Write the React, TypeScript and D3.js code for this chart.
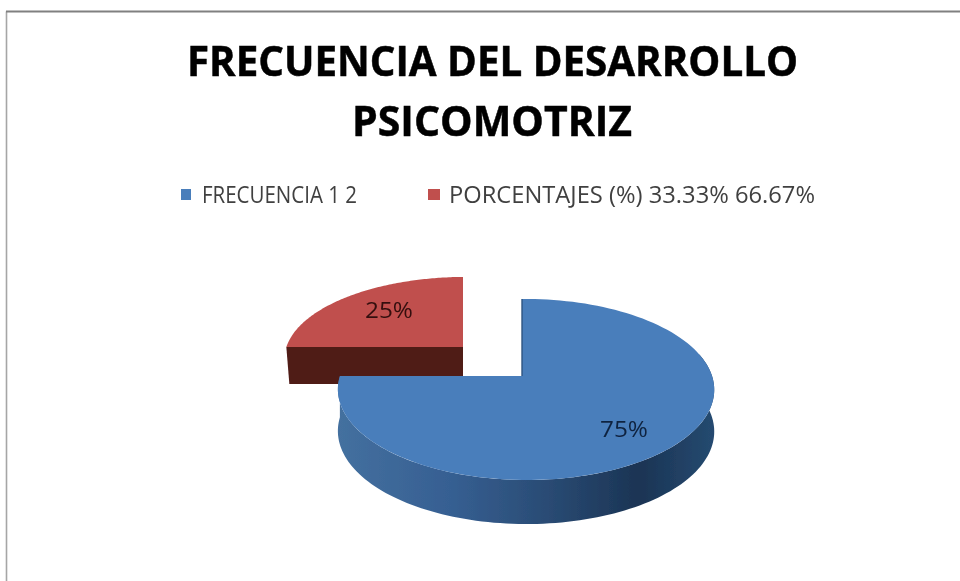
import * as d3 from 'd3'

const categories = ['FRECUENCIA 1 2', 'PORCENTAJES (%) 33.33% 66.67%']
const sliceValues = [75, 25]
const sliceLabels = ['75%', '25%']
const titleLines = ['FRECUENCIA DEL DESARROLLO', 'PSICOMOTRIZ']
const sliceColors = ['#4a7ebb', '#c0504d']

const width = 960
const height = 581
const steps = 120

// the 3D look: each slice is a circle seen in perspective around its own apex
const slicesGeo = [
    {ax: 522, ay: 376, sx: 1, sy: 1, depth: 44},
    {ax: 463, ay: 347, sx: 0.97, sy: 0.91, depth: 37}
]

const project = (geo, a, r = 1, drop = 0) => {
    const u = Math.sin(a) * r
    const v = -Math.cos(a) * r
    const w = 1 - 0.149 * v - 0.0213 * u
    return [
        geo.ax + (186 * geo.sx * u) / w,
        geo.ay + (88.5 * geo.sy * v) / w + drop * (0.94 + 0.06 * v)
    ]
}

const arcPoints = (geo, a0, a1, drop = 0) =>
    d3.range(steps + 1).map(i => project(geo, a0 + ((a1 - a0) * i) / steps, 1, drop))

const line = d3.line()

export default function App() {
    const pieData = d3.pie().sort(null)(sliceValues)
    const blue = pieData[0]
    const red = pieData[1]
    const blueGeo = slicesGeo[0]
    const redGeo = slicesGeo[1]

    const blueTop = [[blueGeo.ax, blueGeo.ay], ...arcPoints(blueGeo, blue.startAngle, blue.endAngle)]
    const redTop = [[redGeo.ax, redGeo.ay], ...arcPoints(redGeo, red.startAngle, red.endAngle)]

    // outer wall of the big slice, visible part only
    const wallFrom = Math.PI * 0.42
    const blueWall = [
        ...arcPoints(blueGeo, wallFrom, blue.endAngle),
        ...arcPoints(blueGeo, wallFrom, blue.endAngle, blueGeo.depth).reverse()
    ]
    // flat cut face of the small slice
    const redEdge = project(redGeo, red.startAngle)
    const redFace = [
        redEdge,
        [redGeo.ax, redGeo.ay],
        [redGeo.ax, redGeo.ay + redGeo.depth],
        [redEdge[0] + 3, redEdge[1] + redGeo.depth]
    ]

    const labelAt = [
        [624, 429],
        [389, 310]
    ]

    return (
        <svg
            width={width}
            height={height}
            style={{position: 'absolute', left: 0, top: 0, background: '#fff'}}
        >
            <defs>
                <linearGradient id="wall" gradientUnits="userSpaceOnUse" x1="338" x2="714" y1="0" y2="0">
                    <stop offset="0" stopColor="#44709f" />
                    <stop offset="0.3" stopColor="#365f92" />
                    <stop offset="0.55" stopColor="#2a4c75" />
                    <stop offset="0.8" stopColor="#1b3454" />
                    <stop offset="1" stopColor="#254a70" />
                </linearGradient>
                <filter id="soft">
                    <feGaussianBlur stdDeviation="0.5" />
                </filter>
            </defs>

            {/* frame */}
            <path d={`M6.5,${height} V11.5`} fill="none" stroke="#a6a6a6" strokeWidth={1.6} />
            <path d={`M6,11.5 H${width}`} fill="none" stroke="#808080" strokeWidth={1.8} />

            <g
                filter="url(#soft)"
                fontFamily="'Open Sans', 'Noto Sans', sans-serif"
                textAnchor="start"
            >
                <text x={187} y={76} fontSize={42} fontWeight={700} fill="#050505"
                    stroke="#050505" strokeWidth={0.5}
                    textLength={611} lengthAdjust="spacingAndGlyphs">{titleLines[0]}</text>
                <text x={352} y={136} fontSize={42} fontWeight={700} fill="#050505"
                    stroke="#050505" strokeWidth={0.5}
                    textLength={280} lengthAdjust="spacingAndGlyphs">{titleLines[1]}</text>

                <rect x={181} y={189} width={10} height={11} fill={sliceColors[0]} />
                <text x={202} y={203} fontSize={23} fill="#404040"
                    textLength={155} lengthAdjust="spacingAndGlyphs">{categories[0]}</text>
                <rect x={428} y={189} width={12} height={11} fill={sliceColors[1]} />
                <text x={449} y={203} fontSize={23} fill="#404040"
                    textLength={366} lengthAdjust="spacingAndGlyphs">{categories[1]}</text>
            </g>

            <g filter="url(#soft)">
                {/* small slice goes behind */}
                <path d={line(redFace) + 'Z'} fill="#4f1a17" />
                <path d={line(redTop) + 'Z'} fill={sliceColors[1]} />

                <path d={line(blueWall) + 'Z'} fill="url(#wall)" />
                <path d={line(blueTop) + 'Z'} fill={sliceColors[0]} />
                {/* sliver of inner wall at the notch */}
                <line x1={blueGeo.ax} x2={blueGeo.ax} y1={blueGeo.ay} y2={project(blueGeo, 0)[1]}
                    stroke="#2f5581" strokeWidth={1.4} />
            </g>

            {sliceLabels.map((d, i) => (
                <text key={d} x={labelAt[i][0]} y={labelAt[i][1]} dy="0.36em" textAnchor="middle"
                    fontFamily="'Open Sans', 'Noto Sans', sans-serif" fontSize={22}
                    textLength={48} lengthAdjust="spacingAndGlyphs"
                    fill={i === 0 ? '#10233f' : '#35100e'} filter="url(#soft)">
                    {d}
                </text>
            ))}
        </svg>
    )
}
